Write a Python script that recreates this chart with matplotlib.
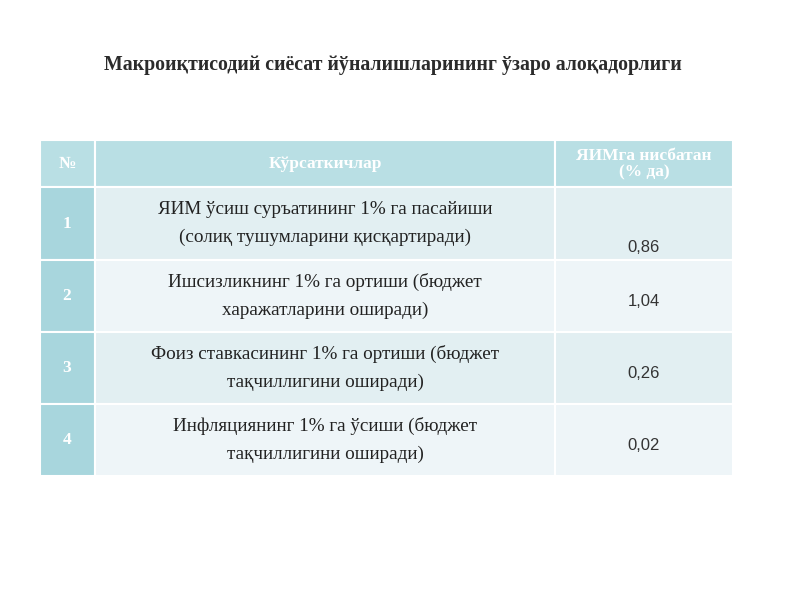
import matplotlib
matplotlib.use("Agg")
import matplotlib.pyplot as plt
from matplotlib.patches import Rectangle

title = "Макроиқтисодий сиёсат йўналишларининг ўзаро алоқадорлиги"
headers = ["№", "Кўрсаткичлар", "ЯИМга нисбатан\n(% да)"]
nums = ["1", "2", "3", "4"]
indicators = [
    "ЯИМ ўсиш суръатининг 1% га пасайиши\n(солиқ тушумларини қисқартиради)",
    "Ишсизликнинг 1% га ортиши (бюджет\nхаражатларини оширади)",
    "Фоиз ставкасининг 1% га ортиши (бюджет\nтақчиллигини оширади)",
    "Инфляциянинг 1% га ўсиши (бюджет\nтақчиллигини оширади)",
]
values = ["0,86", "1,04", "0,26", "0,02"]

fig = plt.figure(figsize=(8, 6), dpi=100)
ax = fig.add_axes([0, 0, 1, 1])
ax.set_xlim(0, 800); ax.set_ylim(600, 0); ax.axis("off")

ax.text(393, 65, title, ha="center", va="center", fontsize=14.3, fontweight="bold",
        family="Liberation Serif", color="#2b2b2b")

cols = [40, 95, 555, 733]
rows = [140, 187, 260, 332, 404, 476]
hdr = "#b9dfe4"; first = "#a8d6dd"; bgs = ["#e2eff2", "#eef5f8"]
line = "white"

def cell(x0, x1, y0, y1, c):
    ax.add_patch(Rectangle((x0, y0), x1 - x0, y1 - y0, facecolor=c, edgecolor=line, lw=1.5))

for j in range(3):
    cell(cols[j], cols[j+1], rows[0], rows[1], hdr)
    ax.text((cols[j]+cols[j+1])/2, (rows[0]+rows[1])/2 + 1, headers[j], ha="center", va="center",
            color="white", fontweight="bold", fontsize=12.5,
            family="Liberation Serif", linespacing=1.0)

for i in range(4):
    y0, y1 = rows[i+1], rows[i+2]
    cell(cols[0], cols[1], y0, y1, first)
    cell(cols[1], cols[2], y0, y1, bgs[i % 2])
    cell(cols[2], cols[3], y0, y1, bgs[i % 2])
    ym = (y0 + y1) / 2
    ax.text(67, ym, nums[i], ha="center", va="center", color="white", fontweight="bold",
            fontsize=12.5, family="Liberation Serif")
    ax.text(325, ym, indicators[i], ha="center", va="center", color="#222222",
            fontsize=13.8, family="Liberation Serif", linespacing=1.75)
    yv = y0 + 60 if i == 0 else ym + 5
    ax.text(644, yv, values[i], ha="center", va="center", color="#333333",
            fontsize=12, family="Liberation Sans")

fig.savefig("out.png", dpi=100, facecolor="white")
